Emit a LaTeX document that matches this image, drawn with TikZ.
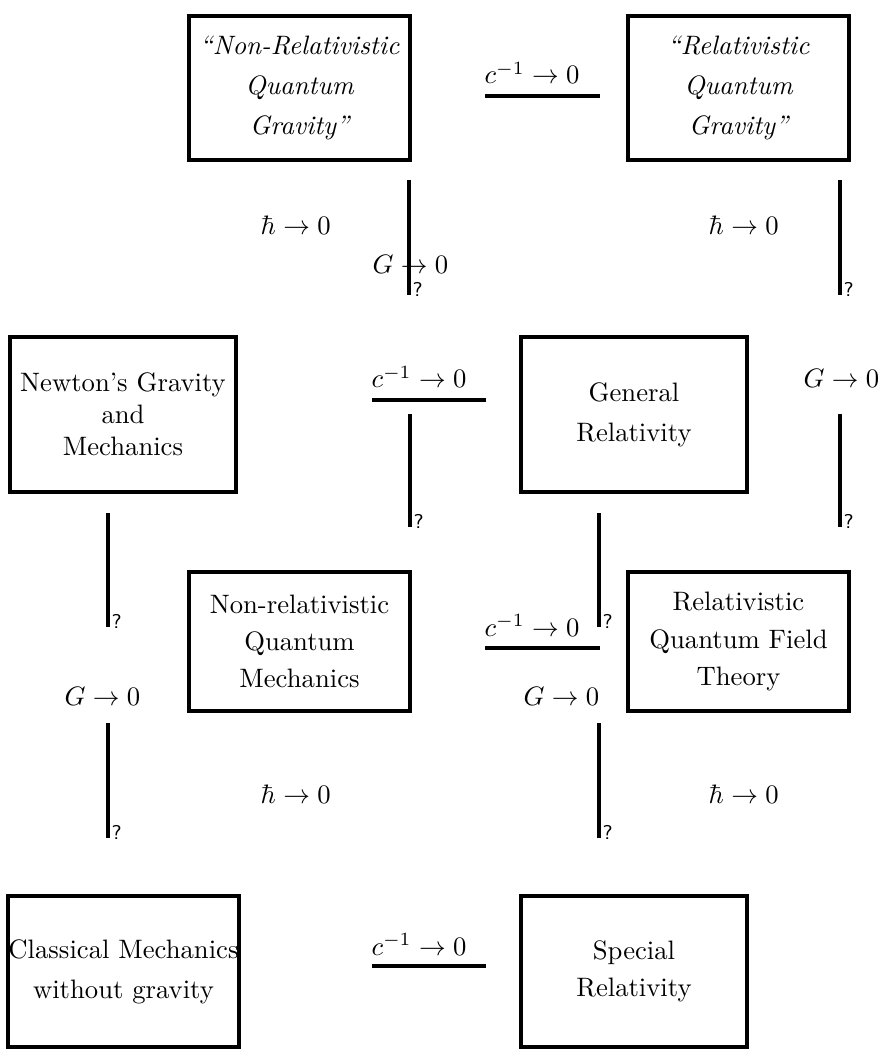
\documentclass[tikz,border=0pt]{standalone}
\begin{document}
\begin{tikzpicture}[x=0.375pt,y=-0.375pt]
\tikzset{
  theory/.style={draw, line width=1.5pt, align=center, inner sep=0pt},
  backbox/.style={theory, minimum width=82.9pt},
  frontbox/.style={theory, minimum width=85pt},
  link/.style={line width=1.5pt},
  lbl/.style={inner sep=0pt, anchor=base west},
  qmark/.style={font=\sffamily\fontsize{7.5}{8}\selectfont, inner sep=0pt, anchor=south west},
}
\useasboundingbox (0,0) rectangle (886,1051);

% theory boxes
\node[backbox, minimum height=54pt, font=\itshape] (nrqg) at (299.5,88)
  {``Non-Relativistic\\[3pt] Quantum\\[3pt] Gravity''};
\node[backbox, minimum height=54pt, font=\itshape] (rqg) at (738.5,88)
  {``Relativistic\\[3pt] Quantum\\[3pt] Gravity''};
\node[frontbox, minimum height=58.1pt] (newton) at (123,414.5)
  {Newton's Gravity\\and\\Mechanics};
\node[frontbox, minimum height=58.1pt] (gr) at (634,414.5)
  {General\\[3pt]Relativity};
\node[backbox, minimum height=52.1pt] (nrqm) at (299.5,641.5)
  {Non-relativistic\\[2pt]Quantum\\[2pt]Mechanics};
\node[backbox, minimum height=52.1pt] (rqft) at (738.5,641.5)
  {Relativistic\\[2pt]Quantum Field\\[2pt]Theory};
\node[frontbox, minimum height=56.6pt] (cm) at (123.5,971.5)
  {Classical Mechanics\\[3pt]without gravity};
\node[frontbox, minimum height=56.6pt] (sr) at (634,971.5)
  {Special\\[2pt]Relativity};

% horizontal connectors (c^{-1} -> 0)
\coordinate (h1a) at (485,96);  \coordinate (h1b) at (600,96);
\coordinate (h2a) at (372,400); \coordinate (h2b) at (486,400);
\coordinate (h3a) at (485,648); \coordinate (h3b) at (600,648);
\coordinate (h4a) at (372,966); \coordinate (h4b) at (486,966);
\draw[link] (h1a) -- (h1b);
\draw[link] (h2a) -- (h2b);
\draw[link] (h3a) -- (h3b);
\draw[link] (h4a) -- (h4b);
\node[lbl] (l1) at (484,84)  {$c^{-1}\to 0$};
\node[lbl] (l2) at (371,388) {$c^{-1}\to 0$};
\node[lbl] (l3) at (484,636) {$c^{-1}\to 0$};
\node[lbl] (l4) at (371,955) {$c^{-1}\to 0$};

% vertical connectors
\coordinate (v1a) at (409,180); \coordinate (v1b) at (409,295);
\coordinate (v2a) at (840,180); \coordinate (v2b) at (840,295);
\coordinate (v3a) at (410,414); \coordinate (v3b) at (410,527);
\coordinate (v4a) at (840,414); \coordinate (v4b) at (840,527);
\coordinate (v5a) at (108,513); \coordinate (v5b) at (108,627);
\coordinate (v6a) at (599,513); \coordinate (v6b) at (599,627);
\coordinate (v7a) at (108,723); \coordinate (v7b) at (108,838);
\coordinate (v8a) at (599,723); \coordinate (v8b) at (599,838);
\foreach \v in {v1,v2,v3,v4,v5,v6,v7,v8}{
  \draw[link] (\v a) -- (\v b);
  \node[qmark] (\v q) at ([xshift=1.2pt,yshift=-0.6pt]\v b) {?};
}

% labels on the vertical connectors
\node[lbl] (g1) at (372,274) {$G\to 0$};
\node[lbl] (g2) at (803,387) {$G\to 0$};
\node[lbl] (g3) at (64,705)  {$G\to 0$};
\node[lbl] (g4) at (523,705) {$G\to 0$};
\node[lbl] (hb1) at (260,235) {$\hbar\to 0$};
\node[lbl] (hb2) at (708,235) {$\hbar\to 0$};
\node[lbl] (hb3) at (260,803) {$\hbar\to 0$};
\node[lbl] (hb4) at (708,803) {$\hbar\to 0$};
\end{tikzpicture}
\end{document}
